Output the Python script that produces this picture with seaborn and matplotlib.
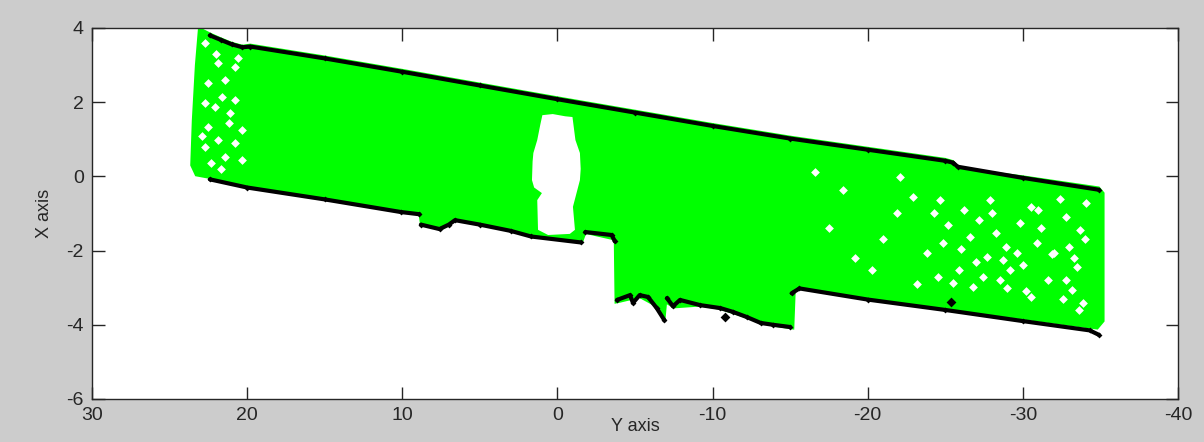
import numpy as np
import pandas as pd
import seaborn as sns
import matplotlib.pyplot as plt

sns.set_style("ticks")
plt.rcParams["font.family"] = ["Liberation Sans", "DejaVu Sans"]
plt.rcParams["axes.unicode_minus"] = False

# outline of the dense green point cloud (Y axis value, X axis value)
cloud_y = [23.1, 22.4, 21.7, 21.0, 20.3, 19.8, 15.0, 10.0, 5.0, 0.0, -5.0, -10.0, -15.0, -20.0,
           -25.0, -25.5, -25.8, -30.0, -34.9, -35.2, -35.2, -34.8, -30.0, -25.0, -20.0, -16.0,
           -15.3, -15.2, -13.9, -12.2, -10.5, -9.2, -7.5, -7.0, -6.9, -6.4, -5.3, -4.0, -3.75,
           -3.7, -1.8, -1.6, 1.7, 5.0, 6.6, 7.6, 8.8, 8.9, 15.0, 20.0, 22.4, 23.3, 23.6, 23.5, 23.3]
cloud_x = [4.0, 3.85, 3.72, 3.6, 3.52, 3.55, 3.23, 2.87, 2.5, 2.13, 1.77, 1.41, 1.07, 0.77,
           0.47, 0.41, 0.22, 0.0, -0.3, -0.45, -3.9, -4.1, -3.83, -3.55, -3.28, -3.0,
           -3.0, -4.1, -4.02, -3.8, -3.57, -3.48, -3.53, -3.4, -3.85, -3.5, -3.25, -3.38, -3.4,
           -1.7, -1.52, -1.75, -1.58, -1.26, -1.14, -1.38, -1.26, -0.97, -0.58, -0.26, -0.04,
           0.03, 0.3, 1.5, 3.0]

# empty patch in the middle of the cloud
hole_y = [0.97, 0.3, -0.5, -0.97, -1.16, -1.45, -1.5, -1.45, -1.0, -1.13, -0.8, 0.6, 1.25,
          1.3, 1.0, 1.5, 1.64, 1.6, 1.55, 1.3, 1.1]
hole_x = [1.65, 1.68, 1.62, 1.6, 0.98, 0.63, 0.2, -0.1, -0.82, -1.44, -1.55, -1.58, -1.44,
          -0.64, -0.45, -0.3, -0.1, 0.4, 0.63, 0.98, 1.4]

# gaps in the sparse ends of the cloud
gap_y = [22.7, 21.9, 20.8, 22.5, 21.6, 22.1, 20.8, 22.5, 21.2, 21.9, 22.7, 20.8, 21.4, 22.3,
         20.3, 20.3, 22.7, 21.4, 22.0, 21.1, 22.9, 21.7, 20.6,
         -16.6, -18.4, -20.3, -22.1, -22.9, -21.9, -19.2, -23.8, -17.5, -21.0, -23.2,
         -24.66, -24.3, -24.85, -24.5, -25.9, -25.5, -26.8, -27.2, -27.9, -28.3, -28.7, -29.2,
         -29.8, -30.5, -30.9, -31.6, -30.5, -32.8, -33.0, -32.8, -33.2, -33.7, -33.5, -32.0,
         -26.6, -29.6, -27.7, -28.5, -34.1, -33.9, -25.2, -26.2, -27.0, -28.0, -29.0, -30.0,
         -31.2, -31.9, -32.4, -33.3, -34.0, -33.6, -32.6, -31.0, -30.2, -28.9, -27.4, -26.0]
gap_x = [3.6, 3.06, 2.95, 2.52, 2.14, 1.87, 2.06, 1.33, 1.44, 0.98, 0.8, 0.9, 0.52, 0.36,
         0.44, 1.25, 1.98, 2.6, 3.3, 1.7, 1.1, 0.2, 3.2,
         0.12, -0.37, -2.52, -0.02, -0.56, -0.99, -2.2, -2.06, -1.4, -1.7, -2.9,
         -0.64, -0.99, -1.8, -2.71, -2.52, -2.87, -2.98, -1.18, -0.64, -1.53, -2.25, -2.52,
         -1.26, -0.82, -1.8, -2.79, -3.25, -1.09, -1.9, -2.79, -3.06, -1.44, -2.44, -2.06,
         -1.63, -2.06, -2.17, -2.79, -0.72, -3.41, -1.3, -0.9, -2.3, -1.0, -3.0, -2.4,
         -1.4, -2.1, -0.6, -2.2, -1.7, -3.6, -3.3, -0.9, -3.1, -1.9, -2.7, -1.95]

# black boundary points, one list per run
top_y = [22.4, 21.7, 21.0, 20.3, 19.8, 15.0, 10.0, 5.0, 0.0, -5.0, -10.0, -15.0, -20.0,
         -25.0, -25.5, -25.8, -30.0, -34.9]
top_x = [3.8, 3.68, 3.56, 3.48, 3.5, 3.18, 2.82, 2.45, 2.08, 1.72, 1.36, 1.02, 0.72,
         0.42, 0.37, 0.26, -0.04, -0.36]
low1_y = [22.4, 20.0, 15.0, 10.1, 8.9]
low1_x = [-0.08, -0.3, -0.62, -0.96, -1.02]
low2_y = [8.8, 7.6, 7.0, 6.6, 5.0, 3.0, 1.7, -1.5]
low2_x = [-1.3, -1.42, -1.3, -1.18, -1.3, -1.47, -1.62, -1.78]
low3_y = [-1.8, -3.5, -3.7]
low3_x = [-1.5, -1.58, -1.75]
low4_y = [-3.84, -4.68, -4.87, -5.3, -5.84, -6.4, -6.9]
low4_x = [-3.33, -3.2, -3.41, -3.2, -3.25, -3.55, -3.88]
low5_y = [-7.06, -7.45, -7.9, -9.2, -10.5, -11.3, -12.2, -13.1, -13.9, -15.0]
low5_x = [-3.28, -3.5, -3.33, -3.47, -3.55, -3.65, -3.79, -3.95, -4.0, -4.06]
low6_y = [-15.1, -15.6, -20.0, -25.0, -30.0, -34.3, -34.9]
low6_x = [-3.15, -3.02, -3.32, -3.6, -3.9, -4.15, -4.27]
stray_y = [-10.8, -25.35]
stray_x = [-3.79, -3.38]

runs = [(top_y, top_x), (low1_y, low1_x), (low2_y, low2_x), (low3_y, low3_x),
        (low4_y, low4_x), (low5_y, low5_x), (low6_y, low6_x)]
edges = pd.concat([pd.DataFrame({"y": ys, "x": xs, "run": i}) for i, (ys, xs) in enumerate(runs)])

fig = plt.figure(figsize=(12.04, 4.42), dpi=100, facecolor="#cccccc")
ax = fig.add_axes([0.0764, 0.0973, 0.902, 0.8394])
ax.set_facecolor("white")

ax.fill(cloud_y, cloud_x, color="#00ff00", lw=1.5, ec="#00ff00", zorder=1)
ax.fill(hole_y, hole_x, color="white", lw=0, zorder=2)
sns.scatterplot(x=gap_y, y=gap_x, ax=ax, color="white", marker="D", s=20, linewidth=0, zorder=2)

sns.lineplot(data=edges, x="y", y="x", units="run", estimator=None, sort=False, ax=ax,
             color="black", lw=3.0, marker="D", markersize=3, markeredgewidth=0, zorder=3,
             solid_joinstyle="round", solid_capstyle="round")
sns.scatterplot(x=stray_y, y=stray_x, ax=ax, color="black", marker="D", s=25, linewidth=0,
                zorder=3)

ax.set_xlim(30, -40)
ax.set_ylim(-6, 4)
ax.set_xticks(np.arange(30, -41, -10))
ax.set_yticks(np.arange(-6, 5, 2))
ax.tick_params(direction="in", length=9, width=1, top=True, right=True, labelsize=14,
               pad=6, colors="#262626")
for sp in ax.spines.values():
    sp.set_visible(True)
    sp.set_linewidth(1)
    sp.set_color("#262626")

ax.set_xlabel("Y axis", fontsize=13, color="#262626")
ax.set_ylabel("X axis", fontsize=13, color="#262626")
ax.xaxis.set_label_coords(0.5, -0.05)
ax.yaxis.set_label_coords(-0.036, 0.5)

fig.savefig("out.png", dpi=100, facecolor=fig.get_facecolor())
